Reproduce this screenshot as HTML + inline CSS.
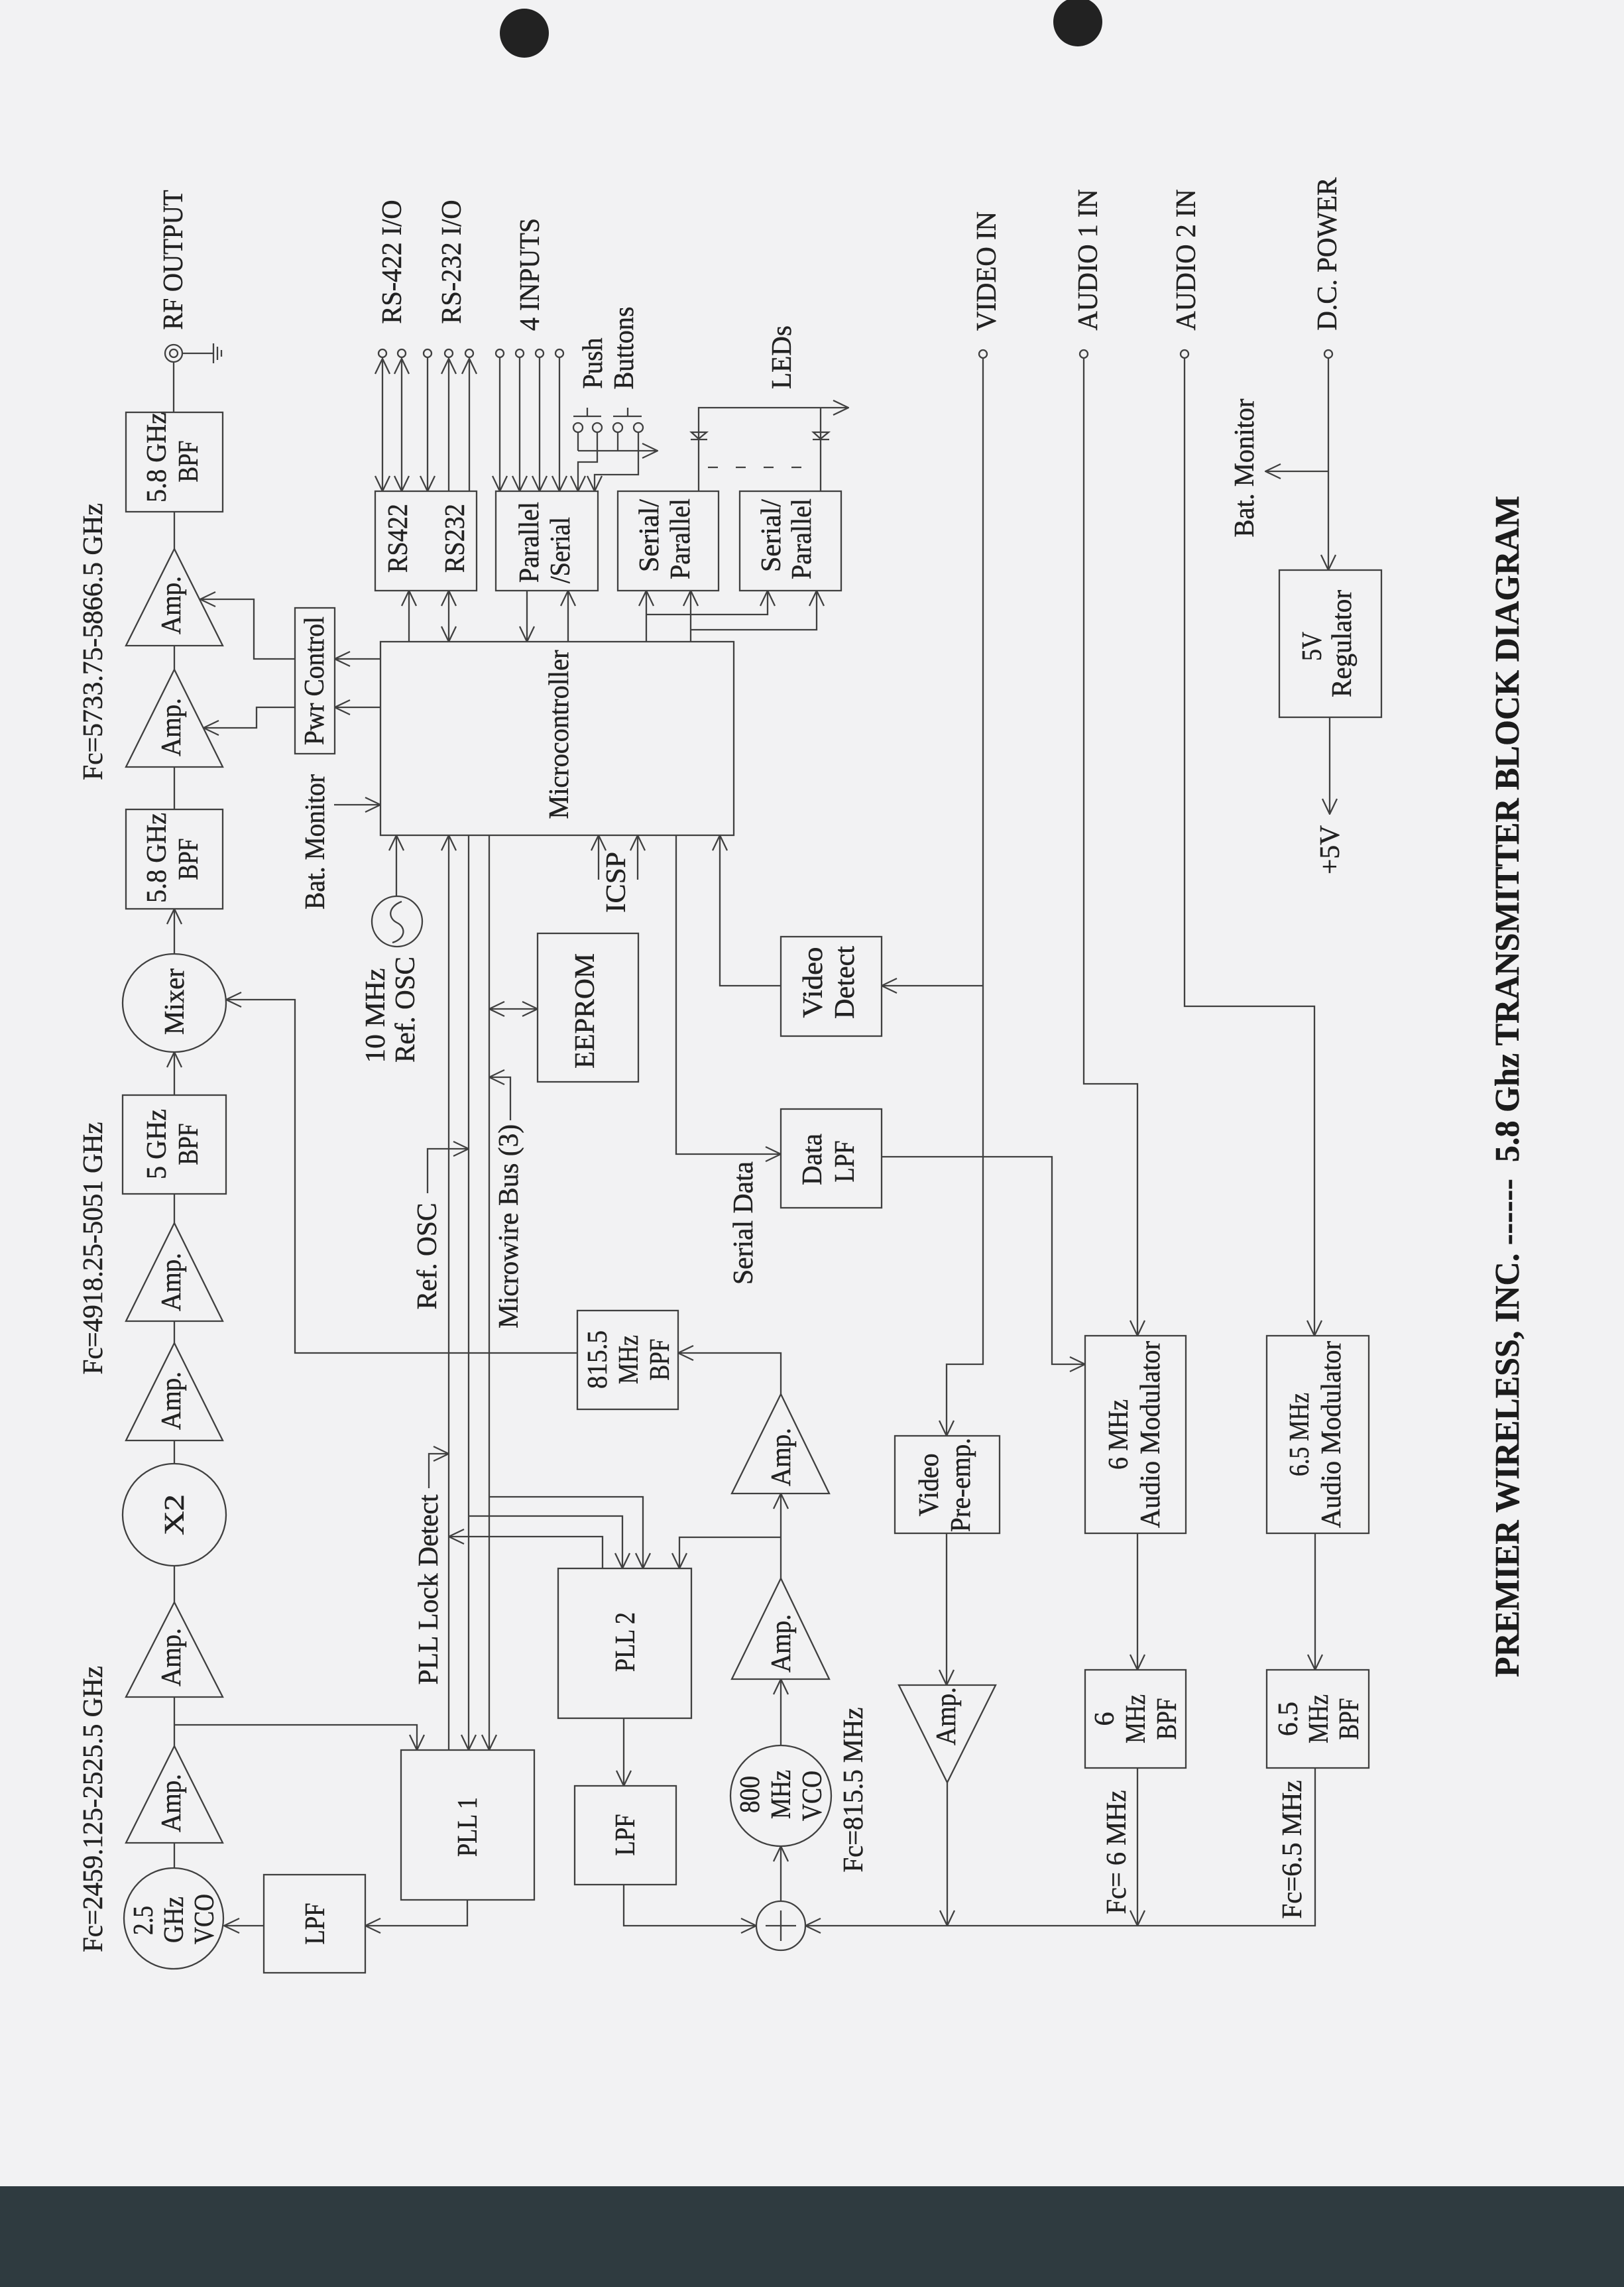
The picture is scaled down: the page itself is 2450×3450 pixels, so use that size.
<!DOCTYPE html>
<html><head><meta charset="utf-8">
<style>
html,body{margin:0;padding:0;background:#f2f2f3;}
svg{display:block;}
text{font-family:"Liberation Serif","Times New Roman",serif;font-size:42px;fill:#222;stroke:#222;stroke-width:0.5;}
.l{stroke:#404040;stroke-width:2.3;fill:none;}
.t{font-weight:bold;font-size:52px;fill:#1b1b1b;}
</style></head>
<body>
<svg width="2450" height="3450" viewBox="0 0 2450 3450" xmlns="http://www.w3.org/2000/svg">
<defs>
<marker id="a" viewBox="0 0 26 26" refX="25" refY="13" markerWidth="26" markerHeight="26" markerUnits="userSpaceOnUse" orient="auto-start-reverse">
<path d="M2,2 L25,13 L2,24" fill="none" stroke="#404040" stroke-width="2.3"/>
</marker>
</defs>
<rect x="0" y="0" width="2450" height="3450" fill="#f2f2f3"/>
<circle cx="791" cy="50" r="37" fill="#222"/>
<circle cx="1626" cy="33" r="37" fill="#222"/>
<rect x="0" y="3298" width="2450" height="152" fill="#2f3b40"/>

<g class="l">
<circle cx="262" cy="533" r="13"/><circle cx="262" cy="533" r="6"/>
<line x1="275" y1="533" x2="322" y2="533"/>
<line x1="322" y1="518" x2="322" y2="548"/><line x1="328" y1="523" x2="328" y2="543"/><line x1="334" y1="528" x2="334" y2="538"/>
<line x1="262" y1="546" x2="262" y2="622"/>
<rect x="190" y="622" width="146" height="150"/>
<line x1="263" y1="772" x2="263" y2="828"/>
<polygon points="263,828 190,974 336,974"/>
<line x1="263" y1="974" x2="263" y2="1010"/>
<polygon points="263,1010 190,1157 336,1157"/>
<line x1="263" y1="1157" x2="263" y2="1221"/>
<rect x="190" y="1221" width="146" height="150"/>
<line x1="263" y1="1438" x2="263" y2="1371" marker-end="url(#a)"/>
<ellipse cx="263" cy="1513" rx="78" ry="74"/>
<line x1="263" y1="1652" x2="263" y2="1587" marker-end="url(#a)"/>
<rect x="185" y="1652" width="156" height="149"/>
<line x1="263" y1="1801" x2="263" y2="1845"/>
<polygon points="263,1845 190,1993 336,1993"/>
<line x1="263" y1="1993" x2="263" y2="2026"/>
<polygon points="263,2026 190,2173 336,2173"/>
<line x1="263" y1="2173" x2="263" y2="2208"/>
<ellipse cx="263" cy="2285" rx="78" ry="77"/>
<line x1="263" y1="2362" x2="263" y2="2417"/>
<polygon points="263,2417 190,2560 336,2560"/>
<line x1="263" y1="2560" x2="263" y2="2634"/>
<polygon points="263,2634 190,2780 336,2780"/>
<line x1="263" y1="2780" x2="263" y2="2818"/>
<ellipse cx="262" cy="2894" rx="75" ry="76"/>
<polyline points="263,2602 629,2602 629,2640" marker-end="url(#a)"/>

<rect x="445" y="917" width="60" height="220"/>
<line x1="574" y1="994" x2="505" y2="994" marker-end="url(#a)"/>
<line x1="574" y1="1067" x2="505" y2="1067" marker-end="url(#a)"/>
<polyline points="445,994 383,994 383,904 302,904" marker-end="url(#a)"/>
<polyline points="445,1067 387,1067 387,1098 307,1098" marker-end="url(#a)"/>

<rect x="574" y="968" width="533" height="292"/>
<line x1="504" y1="1214" x2="574" y2="1214" marker-end="url(#a)"/>
<circle cx="599" cy="1390" r="38"/>
<path d="M606,1360 C585,1368 585,1385 599,1392 C613,1399 612,1416 592,1422"/>
<line x1="598" y1="1352" x2="598" y2="1260" marker-end="url(#a)"/>

<line x1="677" y1="2640" x2="677" y2="1260" marker-end="url(#a)"/>
<line x1="707" y1="1260" x2="707" y2="2640" marker-end="url(#a)"/>
<line x1="738" y1="1260" x2="738" y2="2640" marker-end="url(#a)"/>
<polyline points="645,1800 645,1733 707,1733" marker-end="url(#a)"/>
<polyline points="770,1690 770,1625 738,1625" marker-end="url(#a)"/>
<polyline points="647,2245 647,2193 677,2193" marker-end="url(#a)"/>
<line x1="738" y1="1522" x2="811" y2="1522" marker-start="url(#a)" marker-end="url(#a)"/>
<rect x="811" y="1408" width="152" height="224"/>
<line x1="903" y1="1327" x2="903" y2="1260" marker-end="url(#a)"/>
<line x1="962" y1="1327" x2="962" y2="1260" marker-end="url(#a)"/>
<polyline points="1020,1260 1020,1741 1178,1741" marker-end="url(#a)"/>
<polyline points="1178,1487 1086,1487 1086,1260" marker-end="url(#a)"/>
<rect x="1178" y="1413" width="152" height="150"/>
<rect x="1178" y="1673" width="152" height="149"/>

<circle cx="1483" cy="534" r="6"/><circle cx="1635" cy="534" r="6"/><circle cx="1787" cy="534" r="6"/><circle cx="2004" cy="534" r="6"/>
<polyline points="1483,540 1483,2058 1428,2058 1428,2166" marker-end="url(#a)"/>
<line x1="1483" y1="1487" x2="1330" y2="1487" marker-end="url(#a)"/>
<polyline points="1330,1745 1587,1745 1587,2058 1637,2058" marker-end="url(#a)"/>
<polyline points="1635,540 1635,1635 1716,1635 1716,2015" marker-end="url(#a)"/>
<polyline points="1787,540 1787,1518 1983,1518 1983,2015" marker-end="url(#a)"/>
<line x1="2004" y1="540" x2="2004" y2="860" marker-end="url(#a)"/>
<line x1="2004" y1="711" x2="1909" y2="711" marker-end="url(#a)"/>
<rect x="1930" y="860" width="154" height="222"/>
<line x1="2006" y1="1082" x2="2006" y2="1228" marker-end="url(#a)"/>

<rect x="871" y="1977" width="152" height="149"/>
<polyline points="871,2041 445,2041 445,1508 341,1508" marker-end="url(#a)"/>
<polygon points="1178,2103 1104,2253 1251,2253"/>
<polyline points="1178,2103 1178,2041 1023,2041" marker-end="url(#a)"/>
<polygon points="1178,2381 1104,2533 1251,2533"/>
<line x1="1178" y1="2381" x2="1178" y2="2253" marker-end="url(#a)"/>
<polyline points="1178,2319 1025,2319 1025,2366" marker-end="url(#a)"/>
<ellipse cx="1178" cy="2709" rx="76" ry="76"/>
<line x1="1178" y1="2633" x2="1178" y2="2533" marker-end="url(#a)"/>
<circle cx="1178" cy="2905" r="37"/>
<line x1="1178" y1="2882" x2="1178" y2="2928"/><line x1="1155" y1="2905" x2="1201" y2="2905"/>
<line x1="1178" y1="2868" x2="1178" y2="2785" marker-end="url(#a)"/>
<rect x="867" y="2694" width="153" height="149"/>
<line x1="941" y1="2592" x2="941" y2="2694" marker-end="url(#a)"/>
<polyline points="941,2843 941,2905 1141,2905" marker-end="url(#a)"/>
<rect x="842" y="2366" width="201" height="226"/>
<polyline points="738,2258 970,2258 970,2366" marker-end="url(#a)"/>
<polyline points="707,2287 939,2287 939,2366" marker-end="url(#a)"/>
<polyline points="909,2366 909,2318 677,2318" marker-end="url(#a)"/>
<rect x="605" y="2640" width="201" height="226"/>
<polyline points="705,2866 705,2905 551,2905" marker-end="url(#a)"/>
<rect x="398" y="2828" width="153" height="148"/>
<line x1="398" y1="2905" x2="338" y2="2905" marker-end="url(#a)"/>

<polyline points="1984,2667 1984,2905 1215,2905" marker-end="url(#a)"/>
<line x1="1716" y1="2667" x2="1716" y2="2905" marker-end="url(#a)"/>
<polygon points="1356,2542 1502,2542 1429,2689"/>
<line x1="1429" y1="2689" x2="1429" y2="2905" marker-end="url(#a)"/>
<line x1="1428" y1="2313" x2="1428" y2="2542" marker-end="url(#a)"/>
<rect x="1350" y="2166" width="158" height="147"/>
<rect x="1637" y="2015" width="152" height="298"/>
<rect x="1911" y="2015" width="154" height="298"/>
<line x1="1716" y1="2313" x2="1716" y2="2519" marker-end="url(#a)"/>
<line x1="1984" y1="2313" x2="1984" y2="2519" marker-end="url(#a)"/>
<rect x="1637" y="2519" width="152" height="148"/>
<rect x="1911" y="2519" width="154" height="148"/>

<circle cx="577" cy="533" r="6"/><circle cx="606" cy="533" r="6"/><circle cx="645" cy="533" r="6"/><circle cx="677" cy="533" r="6"/><circle cx="708" cy="533" r="6"/>
<circle cx="754" cy="533" r="6"/><circle cx="784" cy="533" r="6"/><circle cx="814" cy="533" r="6"/><circle cx="844" cy="533" r="6"/>
<line x1="577" y1="541" x2="577" y2="741" marker-start="url(#a)" marker-end="url(#a)"/>
<line x1="606" y1="541" x2="606" y2="741" marker-start="url(#a)" marker-end="url(#a)"/>
<line x1="645" y1="539" x2="645" y2="741" marker-end="url(#a)"/>
<line x1="677" y1="741" x2="677" y2="541" marker-end="url(#a)"/>
<line x1="708" y1="741" x2="708" y2="541" marker-end="url(#a)"/>
<line x1="754" y1="539" x2="754" y2="741" marker-end="url(#a)"/>
<line x1="784" y1="539" x2="784" y2="741" marker-end="url(#a)"/>
<line x1="814" y1="539" x2="814" y2="741" marker-end="url(#a)"/>
<line x1="844" y1="539" x2="844" y2="741" marker-end="url(#a)"/>
<rect x="566" y="741" width="153" height="150"/>
<rect x="748" y="741" width="154" height="150"/>
<rect x="932" y="741" width="152" height="150"/>
<rect x="1116" y="741" width="153" height="150"/>
<line x1="865" y1="628" x2="907" y2="628"/><line x1="886" y1="615" x2="886" y2="628"/>
<line x1="925" y1="628" x2="968" y2="628"/><line x1="947" y1="615" x2="947" y2="628"/>
<circle cx="872" cy="645" r="7"/><circle cx="901" cy="645" r="7"/><circle cx="932" cy="645" r="7"/><circle cx="963" cy="645" r="7"/>
<line x1="872" y1="652" x2="872" y2="680"/>
<line x1="872" y1="680" x2="992" y2="680" marker-end="url(#a)"/>
<line x1="932" y1="652" x2="932" y2="680"/>
<polyline points="901,652 901,697 872,697 872,741" marker-end="url(#a)"/>
<polyline points="963,652 963,716 897,716 897,741" marker-end="url(#a)"/>
<polyline points="1054,741 1054,615 1280,615" marker-end="url(#a)"/>
<line x1="1238" y1="741" x2="1238" y2="615"/>
<polygon points="1043,652 1066,652 1054,662"/><line x1="1042" y1="663" x2="1067" y2="663"/>
<polygon points="1227,652 1250,652 1238,662"/><line x1="1226" y1="663" x2="1251" y2="663"/>
<line x1="1068" y1="705" x2="1222" y2="705" stroke-dasharray="15 27"/>
<line x1="617" y1="968" x2="617" y2="891" marker-end="url(#a)"/>
<line x1="677" y1="968" x2="677" y2="891" marker-start="url(#a)" marker-end="url(#a)"/>
<line x1="795" y1="891" x2="795" y2="968" marker-end="url(#a)"/>
<line x1="857" y1="968" x2="857" y2="891" marker-end="url(#a)"/>
<line x1="975" y1="968" x2="975" y2="891" marker-end="url(#a)"/>
<polyline points="975,927 1158,927 1158,891" marker-end="url(#a)"/>
<line x1="1042" y1="968" x2="1042" y2="891" marker-end="url(#a)"/>
<polyline points="1042,950 1232,950 1232,891" marker-end="url(#a)"/>
</g>

<g>
<text text-anchor="middle" lengthAdjust="spacingAndGlyphs" textLength="418" transform="translate(154,968) rotate(-90)">Fc=5733.75-5866.5 GHz</text>
<text text-anchor="middle" lengthAdjust="spacingAndGlyphs" textLength="381" transform="translate(154,1883) rotate(-90)">Fc=4918.25-5051 GHz</text>
<text text-anchor="middle" lengthAdjust="spacingAndGlyphs" textLength="432" transform="translate(154,2729) rotate(-90)">Fc=2459.125-2525.5 GHz</text>
<text text-anchor="middle" lengthAdjust="spacingAndGlyphs" textLength="211" transform="translate(275,392) rotate(-90)">RF OUTPUT</text>
<text text-anchor="middle" lengthAdjust="spacingAndGlyphs" textLength="136" transform="translate(250,690) rotate(-90)">5.8 GHz</text>
<text text-anchor="middle" lengthAdjust="spacingAndGlyphs" textLength="63" transform="translate(298,696) rotate(-90)">BPF</text>
<text text-anchor="middle" lengthAdjust="spacingAndGlyphs" textLength="88" transform="translate(272,913) rotate(-90)">Amp.</text>
<text text-anchor="middle" lengthAdjust="spacingAndGlyphs" textLength="88" transform="translate(272,1097) rotate(-90)">Amp.</text>
<text text-anchor="middle" lengthAdjust="spacingAndGlyphs" textLength="136" transform="translate(250,1294) rotate(-90)">5.8 GHz</text>
<text text-anchor="middle" lengthAdjust="spacingAndGlyphs" textLength="63" transform="translate(298,1296) rotate(-90)">BPF</text>
<text text-anchor="middle" lengthAdjust="spacingAndGlyphs" textLength="100" transform="translate(277,1511) rotate(-90)">Mixer</text>
<text text-anchor="middle" lengthAdjust="spacingAndGlyphs" textLength="106" transform="translate(250,1726) rotate(-90)">5 GHz</text>
<text text-anchor="middle" lengthAdjust="spacingAndGlyphs" textLength="63" transform="translate(298,1726) rotate(-90)">BPF</text>
<text text-anchor="middle" lengthAdjust="spacingAndGlyphs" textLength="88" transform="translate(272,1934) rotate(-90)">Amp.</text>
<text text-anchor="middle" lengthAdjust="spacingAndGlyphs" textLength="88" transform="translate(272,2113) rotate(-90)">Amp.</text>
<text text-anchor="middle" lengthAdjust="spacingAndGlyphs" textLength="62" transform="translate(277,2285) rotate(-90)">X2</text>
<text text-anchor="middle" lengthAdjust="spacingAndGlyphs" textLength="88" transform="translate(272,2500) rotate(-90)">Amp.</text>
<text text-anchor="middle" lengthAdjust="spacingAndGlyphs" textLength="88" transform="translate(272,2720) rotate(-90)">Amp.</text>
<text text-anchor="middle" lengthAdjust="spacingAndGlyphs" textLength="44" transform="translate(230,2897) rotate(-90)">2.5</text>
<text text-anchor="middle" lengthAdjust="spacingAndGlyphs" textLength="70" transform="translate(276,2896) rotate(-90)">GHz</text>
<text text-anchor="middle" lengthAdjust="spacingAndGlyphs" textLength="76" transform="translate(322,2895) rotate(-90)">VCO</text>
<text text-anchor="middle" lengthAdjust="spacingAndGlyphs" textLength="63" transform="translate(489,2902) rotate(-90)">LPF</text>
<text text-anchor="middle" lengthAdjust="spacingAndGlyphs" textLength="194" transform="translate(488,1027) rotate(-90)">Pwr Control</text>
<text text-anchor="middle" lengthAdjust="spacingAndGlyphs" textLength="204" transform="translate(489,1270) rotate(-90)">Bat. Monitor</text>
<text text-anchor="middle" lengthAdjust="spacingAndGlyphs" textLength="143" transform="translate(580,1532) rotate(-90)">10 MHz</text>
<text text-anchor="middle" lengthAdjust="spacingAndGlyphs" textLength="160" transform="translate(625,1523) rotate(-90)">Ref. OSC</text>
<text text-anchor="middle" lengthAdjust="spacingAndGlyphs" textLength="161" transform="translate(658,1895) rotate(-90)">Ref. OSC</text>
<text text-anchor="middle" lengthAdjust="spacingAndGlyphs" textLength="308" transform="translate(781,1850) rotate(-90)">Microwire Bus (3)</text>
<text text-anchor="middle" lengthAdjust="spacingAndGlyphs" textLength="287" transform="translate(660,2398) rotate(-90)">PLL Lock Detect</text>
<text text-anchor="middle" lengthAdjust="spacingAndGlyphs" textLength="174" transform="translate(896,1525) rotate(-90)">EEPROM</text>
<text text-anchor="middle" lengthAdjust="spacingAndGlyphs" textLength="92" transform="translate(943,1331) rotate(-90)">ICSP</text>
<text text-anchor="middle" lengthAdjust="spacingAndGlyphs" textLength="255" transform="translate(857,1108) rotate(-90)">Microcontroller</text>
<text text-anchor="middle" lengthAdjust="spacingAndGlyphs" textLength="186" transform="translate(1135,1845) rotate(-90)">Serial Data</text>
<text text-anchor="middle" lengthAdjust="spacingAndGlyphs" textLength="88" transform="translate(915,2051) rotate(-90)">815.5</text>
<text text-anchor="middle" lengthAdjust="spacingAndGlyphs" textLength="74" transform="translate(962,2051) rotate(-90)">MHz</text>
<text text-anchor="middle" lengthAdjust="spacingAndGlyphs" textLength="63" transform="translate(1009,2051) rotate(-90)">BPF</text>
<text text-anchor="middle" lengthAdjust="spacingAndGlyphs" textLength="107" transform="translate(1240,1482) rotate(-90)">Video</text>
<text text-anchor="middle" lengthAdjust="spacingAndGlyphs" textLength="110" transform="translate(1288,1482) rotate(-90)">Detect</text>
<text text-anchor="middle" lengthAdjust="spacingAndGlyphs" textLength="78" transform="translate(1239,1749) rotate(-90)">Data</text>
<text text-anchor="middle" lengthAdjust="spacingAndGlyphs" textLength="63" transform="translate(1288,1752) rotate(-90)">LPF</text>
<text text-anchor="middle" lengthAdjust="spacingAndGlyphs" textLength="90" transform="translate(719,2756) rotate(-90)">PLL 1</text>
<text text-anchor="middle" lengthAdjust="spacingAndGlyphs" textLength="90" transform="translate(957,2477) rotate(-90)">PLL 2</text>
<text text-anchor="middle" lengthAdjust="spacingAndGlyphs" textLength="63" transform="translate(957,2768) rotate(-90)">LPF</text>
<text text-anchor="middle" lengthAdjust="spacingAndGlyphs" textLength="88" transform="translate(1192,2198) rotate(-90)">Amp.</text>
<text text-anchor="middle" lengthAdjust="spacingAndGlyphs" textLength="88" transform="translate(1192,2479) rotate(-90)">Amp.</text>
<text text-anchor="middle" lengthAdjust="spacingAndGlyphs" textLength="56" transform="translate(1145,2707) rotate(-90)">800</text>
<text text-anchor="middle" lengthAdjust="spacingAndGlyphs" textLength="74" transform="translate(1192,2707) rotate(-90)">MHz</text>
<text text-anchor="middle" lengthAdjust="spacingAndGlyphs" textLength="76" transform="translate(1239,2709) rotate(-90)">VCO</text>
<text text-anchor="middle" lengthAdjust="spacingAndGlyphs" textLength="249" transform="translate(1301,2700) rotate(-90)">Fc=815.5 MHz</text>
<text text-anchor="middle" lengthAdjust="spacingAndGlyphs" textLength="95" transform="translate(1415,2240) rotate(-90)">Video</text>
<text text-anchor="middle" lengthAdjust="spacingAndGlyphs" textLength="142" transform="translate(1463,2240) rotate(-90)">Pre-emp.</text>
<text text-anchor="middle" lengthAdjust="spacingAndGlyphs" textLength="88" transform="translate(1441,2589) rotate(-90)">Amp.</text>
<text text-anchor="middle" lengthAdjust="spacingAndGlyphs" textLength="106" transform="translate(1701,2164) rotate(-90)">6 MHz</text>
<text text-anchor="middle" lengthAdjust="spacingAndGlyphs" textLength="282" transform="translate(1749,2164) rotate(-90)">Audio Modulator</text>
<text text-anchor="middle" lengthAdjust="spacingAndGlyphs" textLength="126" transform="translate(1974,2164) rotate(-90)">6.5 MHz</text>
<text text-anchor="middle" lengthAdjust="spacingAndGlyphs" textLength="282" transform="translate(2022,2164) rotate(-90)">Audio Modulator</text>
<text text-anchor="middle" lengthAdjust="spacingAndGlyphs" textLength="21" transform="translate(1680,2593) rotate(-90)">6</text>
<text text-anchor="middle" lengthAdjust="spacingAndGlyphs" textLength="74" transform="translate(1727,2593) rotate(-90)">MHz</text>
<text text-anchor="middle" lengthAdjust="spacingAndGlyphs" textLength="63" transform="translate(1774,2593) rotate(-90)">BPF</text>
<text text-anchor="middle" lengthAdjust="spacingAndGlyphs" textLength="52" transform="translate(1957,2593) rotate(-90)">6.5</text>
<text text-anchor="middle" lengthAdjust="spacingAndGlyphs" textLength="74" transform="translate(2003,2593) rotate(-90)">MHz</text>
<text text-anchor="middle" lengthAdjust="spacingAndGlyphs" textLength="63" transform="translate(2049,2593) rotate(-90)">BPF</text>
<text text-anchor="middle" lengthAdjust="spacingAndGlyphs" textLength="187" transform="translate(1698,2794) rotate(-90)">Fc= 6 MHz</text>
<text text-anchor="middle" lengthAdjust="spacingAndGlyphs" textLength="209" transform="translate(1963,2790) rotate(-90)">Fc=6.5 MHz</text>
<text text-anchor="middle" lengthAdjust="spacingAndGlyphs" textLength="104" transform="translate(614,812) rotate(-90)">RS422</text>
<text text-anchor="middle" lengthAdjust="spacingAndGlyphs" textLength="104" transform="translate(700,812) rotate(-90)">RS232</text>
<text text-anchor="middle" lengthAdjust="spacingAndGlyphs" textLength="122" transform="translate(812,818) rotate(-90)">Parallel</text>
<text text-anchor="middle" lengthAdjust="spacingAndGlyphs" textLength="100" transform="translate(859,830) rotate(-90)">/Serial</text>
<text text-anchor="middle" lengthAdjust="spacingAndGlyphs" textLength="110" transform="translate(993,808) rotate(-90)">Serial/</text>
<text text-anchor="middle" lengthAdjust="spacingAndGlyphs" textLength="122" transform="translate(1040,813) rotate(-90)">Parallel</text>
<text text-anchor="middle" lengthAdjust="spacingAndGlyphs" textLength="110" transform="translate(1177,808) rotate(-90)">Serial/</text>
<text text-anchor="middle" lengthAdjust="spacingAndGlyphs" textLength="122" transform="translate(1223,813) rotate(-90)">Parallel</text>
<text text-anchor="middle" lengthAdjust="spacingAndGlyphs" textLength="187" transform="translate(605,395) rotate(-90)">RS-422 I/O</text>
<text text-anchor="middle" lengthAdjust="spacingAndGlyphs" textLength="187" transform="translate(695,395) rotate(-90)">RS-232 I/O</text>
<text text-anchor="middle" lengthAdjust="spacingAndGlyphs" textLength="170" transform="translate(813,414) rotate(-90)">4 INPUTS</text>
<text text-anchor="middle" lengthAdjust="spacingAndGlyphs" textLength="77" transform="translate(908,548) rotate(-90)">Push</text>
<text text-anchor="middle" lengthAdjust="spacingAndGlyphs" textLength="125" transform="translate(955,525) rotate(-90)">Buttons</text>
<text text-anchor="middle" lengthAdjust="spacingAndGlyphs" textLength="96" transform="translate(1193,539) rotate(-90)">LEDs</text>
<text text-anchor="middle" lengthAdjust="spacingAndGlyphs" textLength="180" transform="translate(1502,409) rotate(-90)">VIDEO IN</text>
<text text-anchor="middle" lengthAdjust="spacingAndGlyphs" textLength="213" transform="translate(1655,392) rotate(-90)">AUDIO 1 IN</text>
<text text-anchor="middle" lengthAdjust="spacingAndGlyphs" textLength="213" transform="translate(1803,392) rotate(-90)">AUDIO 2 IN</text>
<text text-anchor="middle" lengthAdjust="spacingAndGlyphs" textLength="231" transform="translate(2016,383) rotate(-90)">D.C. POWER</text>
<text text-anchor="middle" lengthAdjust="spacingAndGlyphs" textLength="209" transform="translate(1891,706) rotate(-90)">Bat. Monitor</text>
<text text-anchor="middle" lengthAdjust="spacingAndGlyphs" textLength="44" transform="translate(1993,975) rotate(-90)">5V</text>
<text text-anchor="middle" lengthAdjust="spacingAndGlyphs" textLength="162" transform="translate(2038,971) rotate(-90)">Regulator</text>
<text text-anchor="middle" lengthAdjust="spacingAndGlyphs" textLength="74" transform="translate(2020,1282) rotate(-90)">+5V</text>
<text class="t" text-anchor="middle" lengthAdjust="spacingAndGlyphs" textLength="1782" transform="translate(2291,1639) rotate(-90)">PREMIER WIRELESS, INC. ------&#160; 5.8 Ghz TRANSMITTER BLOCK DIAGRAM</text>
</g>
</svg>
</body></html>
